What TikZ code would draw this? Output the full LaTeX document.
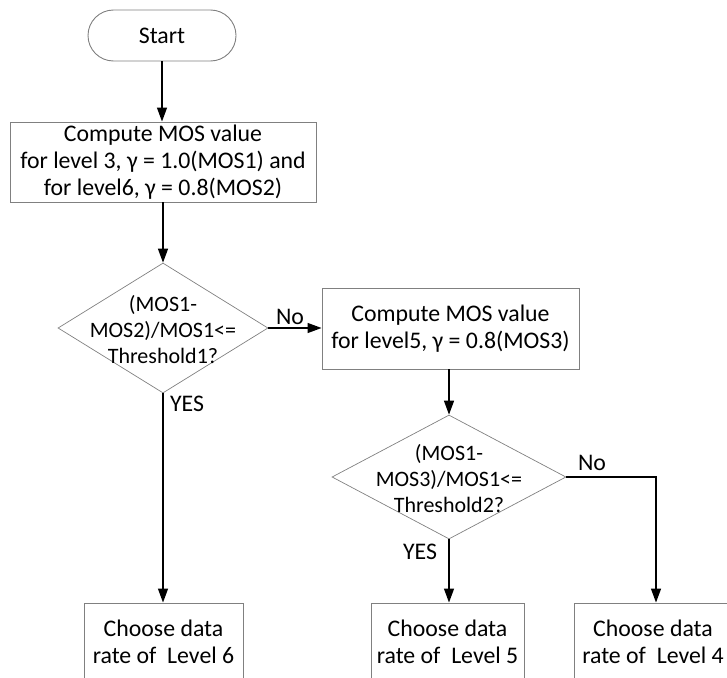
\documentclass[tikz,border=0pt]{standalone}
\usepackage{fontspec}
\setmainfont{Carlito}
\usetikzlibrary{shapes.geometric,arrows.meta}
\definecolor{boxgray}{RGB}{128,128,128}
\begin{document}
\begin{tikzpicture}[x=1pt,y=-1pt,
  every node/.style={font=\fontsize{23.8}{27}\selectfont},
  proc/.style={draw=boxgray, line width=0.9pt, align=center, inner sep=0pt},
  dia/.style={draw=boxgray, line width=0.7pt, diamond, inner sep=0pt},
  diatext/.style={inner sep=0pt, align=center, font=\fontsize{22}{26}\selectfont},
  arr/.style={-{Triangle[length=14pt,width=10pt]}, line width=1.3pt},
  lbl/.style={inner sep=0pt, align=center}]
\useasboundingbox (0,0) rectangle (727,677);
\clip (0,0) rectangle (727,677);

\node[proc, rounded corners=25.5pt, minimum width=148pt, minimum height=51pt] (start) at (162,35.5) {Start};
\node[proc, minimum width=306pt, minimum height=80pt] (c1) at (163,162) {Compute MOS value\\for level 3, γ = 1.0(MOS1) and\\for level6, γ = 0.8(MOS2)};

\node[dia, minimum width=210pt, minimum height=130pt] (d1) at (163,328) {};
\node[diatext] (t1) at (163,330) {(MOS1-\\MOS2)/MOS1<=\\Threshold1?};

\node[proc, minimum width=257pt, minimum height=81pt] (c2) at (450.5,328.5) {Compute MOS value\\for level5, γ = 0.8(MOS3)};

\node[dia, minimum width=234pt, minimum height=124pt] (d2) at (449,477) {};
\node[diatext] (t2) at (449,479) {(MOS1-\\MOS3)/MOS1<=\\Threshold2?};

\node[proc, minimum width=159pt, minimum height=77pt] (l6) at (163.5,641.5) {Choose data\\rate of\ \ Level 6};
\node[proc, minimum width=153pt, minimum height=77pt] (l5) at (447.5,641.5) {Choose data\\rate of\ \ Level 5};
\node[proc, minimum width=158pt, minimum height=77pt] (l4) at (653,641.5) {Choose data\\rate of\ \ Level 4};

\coordinate (k4) at (656,477);

\draw[arr] (start.south) -- (start.south|-c1.north);
\draw[arr] (c1.south) -- (c1.south|-d1.north);
\draw[arr] (d1.east) -- (d1.east-|c2.west);
\draw[arr] (d1.south) -- (d1.south|-l6.north);
\draw[arr] (d2.north|-c2.south) -- (d2.north);
\draw[arr] (d2.south) -- (d2.south|-l5.north);
\draw[arr] (d2.east) -- (k4) -- (k4|-l4.north);

\node[lbl] (no1) at (290,317) {No};
\node[lbl] (yes1) at (187,404) {YES};
\node[lbl] (no2) at (592,463) {No};
\node[lbl] (yes2) at (420,552) {YES};
\end{tikzpicture}
\end{document}
